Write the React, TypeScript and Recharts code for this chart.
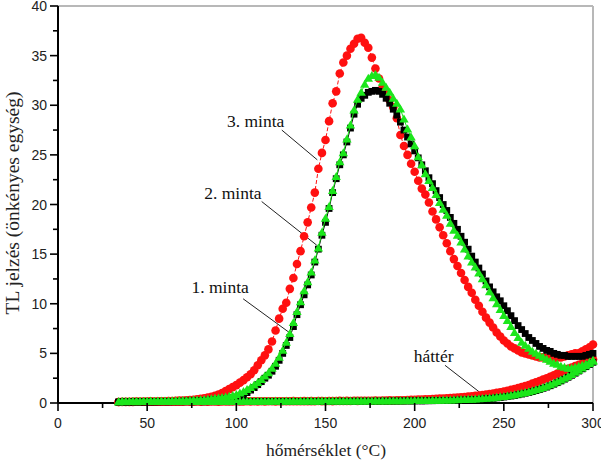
import React from 'react';
import {
  ScatterChart,
  Scatter,
  XAxis,
  YAxis,
  ReferenceLine,
  ReferenceDot,
} from 'recharts';

// temperature grid (°C)
const temps = [
  34, 36, 38, 40, 42, 44, 46, 48, 50, 52,
  54, 56, 58, 60, 62, 64, 66, 68, 70, 72,
  74, 76, 78, 80, 82, 84, 86, 88, 90, 92,
  94, 96, 98, 100, 102, 104, 106, 108, 110, 112,
  114, 116, 118, 120, 122, 124, 126, 128, 130, 132,
  134, 136, 138, 140, 142, 144, 146, 148, 150, 152,
  154, 156, 158, 160, 162, 164, 166, 168, 170, 172,
  174, 176, 178, 180, 182, 184, 186, 188, 190, 192,
  194, 196, 198, 200, 202, 204, 206, 208, 210, 212,
  214, 216, 218, 220, 222, 224, 226, 228, 230, 232,
  234, 236, 238, 240, 242, 244, 246, 248, 250, 252,
  254, 256, 258, 260, 262, 264, 266, 268, 270, 272,
  274, 276, 278, 280, 282, 284, 286, 288, 290, 292,
  294, 296, 298, 300,
];

// 1. minta (black squares)
const minta1 = [
  0.08, 0.1, 0.08, 0.1, 0.1, 0.12, 0.1, 0.12, 0.12, 0.13,
  0.12, 0.14, 0.13, 0.15, 0.14, 0.16, 0.15, 0.17, 0.18, 0.18,
  0.2, 0.2, 0.22, 0.24, 0.26, 0.28, 0.3, 0.33, 0.36, 0.4,
  0.44, 0.48, 0.52, 0.6, 0.7, 0.85, 1.05, 1.3, 1.55, 1.85,
  2.15, 2.5, 2.8, 3.2, 3.7, 4.3, 5.0, 5.8, 6.6, 7.7,
  8.9, 9.9, 10.9, 11.9, 12.9, 14.2, 15.5, 16.9, 18.2, 19.6,
  21.2, 22.6, 24.0, 25.0, 26.3, 27.7, 29.1, 30.1, 30.7, 31.0,
  31.3, 31.4, 31.5, 31.4, 31.1, 30.7, 30.2, 29.6, 29.0, 28.3,
  27.5, 26.8, 26.1, 25.4, 24.7, 24.0, 23.4, 22.7, 22.1, 21.4,
  20.7, 20.0, 19.4, 18.7, 18.1, 17.5, 16.8, 16.2, 15.5, 14.8,
  14.2, 13.6, 13.0, 12.3, 11.7, 11.2, 10.7, 10.3, 9.8, 9.3,
  8.8, 8.3, 7.8, 7.4, 7.0, 6.6, 6.3, 6.0, 5.7, 5.5,
  5.3, 5.2, 5.0, 4.9, 4.8, 4.8, 4.7, 4.7, 4.7, 4.7,
  4.7, 4.8, 4.9, 5.0,
];

// 2. minta (green triangles)
const minta2 = [
  0.12, 0.14, 0.13, 0.15, 0.14, 0.16, 0.15, 0.17, 0.16, 0.18,
  0.17, 0.19, 0.18, 0.2, 0.2, 0.22, 0.21, 0.23, 0.24, 0.25,
  0.26, 0.28, 0.3, 0.32, 0.35, 0.38, 0.42, 0.46, 0.5, 0.55,
  0.6, 0.66, 0.74, 0.85, 1.0, 1.15, 1.35, 1.55, 1.8, 2.05,
  2.35, 2.7, 3.05, 3.5, 4.0, 4.6, 5.3, 6.1, 7.0, 8.1,
  9.2, 10.2, 11.3, 12.2, 13.2, 14.4, 15.6, 17.2, 18.6, 19.8,
  21.4, 22.8, 24.3, 25.2, 26.6, 28.0, 29.5, 30.6, 31.3, 32.1,
  32.7, 33.0, 33.1, 32.8, 32.3, 31.8, 31.3, 30.7, 30.2, 29.6,
  28.6, 27.6, 26.8, 25.9, 24.8, 24.0, 23.1, 22.4, 21.7, 21.0,
  20.2, 19.5, 18.9, 18.1, 17.4, 16.9, 16.2, 15.5, 14.8, 14.2,
  13.7, 13.1, 12.5, 11.9, 11.2, 10.6, 10.0, 9.4, 8.8, 8.3,
  7.7, 7.1, 6.6, 6.1, 5.8, 5.5, 5.2, 5.0, 4.8, 4.6,
  4.4, 4.2, 4.0, 3.9, 3.7, 3.6, 3.5, 3.5, 3.6, 3.7,
  3.8, 3.9, 4.1, 4.3,
];

// 3. minta (red circles)
const minta3 = [
  0.1, 0.1, 0.12, 0.1, 0.12, 0.14, 0.12, 0.15, 0.14, 0.16,
  0.15, 0.17, 0.16, 0.18, 0.2, 0.2, 0.22, 0.24, 0.25, 0.28,
  0.3, 0.33, 0.37, 0.42, 0.48, 0.55, 0.62, 0.72, 0.85, 1.0,
  1.2, 1.4, 1.6, 1.8, 2.05, 2.3, 2.6, 2.9, 3.3, 3.8,
  4.3, 4.8, 5.4, 6.2, 7.3, 8.5, 9.5, 10.1, 11.5, 12.6,
  14.0, 15.3, 16.8, 18.2, 19.7, 21.2, 23.6, 25.2, 26.5, 28.4,
  30.2, 31.4, 33.2, 34.3, 35.0, 35.7, 36.2, 36.7, 36.8, 36.3,
  35.8, 34.8, 33.7, 32.7, 31.8, 31.1, 30.5, 29.8, 28.7, 27.0,
  25.9, 25.0, 24.1, 23.3, 22.4, 21.6, 21.0, 20.2, 19.3, 18.5,
  17.7, 16.9, 16.1, 15.3, 14.5, 13.8, 13.1, 12.4, 11.7, 11.1,
  10.4, 9.8, 9.2, 8.6, 8.1, 7.6, 7.1, 6.7, 6.3, 6.0,
  5.7, 5.5, 5.3, 5.1, 5.0, 4.9, 4.8, 4.7, 4.6, 4.6,
  4.5, 4.5, 4.5, 4.6, 4.6, 4.7, 4.8, 4.9, 5.0, 5.0,
  5.2, 5.4, 5.6, 5.9,
];

// háttér (background) runs
const hatter1 = [
  0.1, 0.11, 0.1, 0.12, 0.11, 0.1, 0.12, 0.11, 0.12, 0.11,
  0.12, 0.11, 0.13, 0.12, 0.11, 0.13, 0.12, 0.13, 0.12, 0.13,
  0.13, 0.12, 0.14, 0.13, 0.12, 0.14, 0.13, 0.14, 0.13, 0.14,
  0.14, 0.13, 0.15, 0.14, 0.13, 0.15, 0.14, 0.15, 0.14, 0.15,
  0.15, 0.14, 0.15, 0.14, 0.16, 0.15, 0.14, 0.16, 0.15, 0.16,
  0.15, 0.16, 0.15, 0.17, 0.16, 0.15, 0.17, 0.16, 0.17, 0.16,
  0.17, 0.16, 0.18, 0.17, 0.16, 0.18, 0.17, 0.18, 0.17, 0.18,
  0.18, 0.17, 0.19, 0.18, 0.19, 0.18, 0.19, 0.2, 0.19, 0.2,
  0.2, 0.21, 0.2, 0.21, 0.22, 0.21, 0.22, 0.23, 0.23, 0.24,
  0.24, 0.25, 0.26, 0.26, 0.27, 0.28, 0.29, 0.3, 0.31, 0.33,
  0.35, 0.37, 0.39, 0.42, 0.45, 0.48, 0.52, 0.56, 0.6, 0.65,
  0.7, 0.76, 0.83, 0.9, 0.98, 1.06, 1.15, 1.25, 1.36, 1.48,
  1.6, 1.74, 1.89, 2.05, 2.22, 2.4, 2.59, 2.79, 3.0, 3.22,
  3.44, 3.66, 3.88, 4.1,
];

const hatter2 = [
  0.12, 0.13, 0.12, 0.14, 0.13, 0.12, 0.14, 0.13, 0.14, 0.13,
  0.14, 0.13, 0.15, 0.14, 0.13, 0.15, 0.14, 0.15, 0.14, 0.15,
  0.15, 0.14, 0.16, 0.15, 0.14, 0.16, 0.15, 0.16, 0.15, 0.16,
  0.16, 0.15, 0.17, 0.16, 0.15, 0.17, 0.16, 0.17, 0.16, 0.17,
  0.17, 0.16, 0.17, 0.16, 0.18, 0.17, 0.16, 0.18, 0.17, 0.18,
  0.17, 0.18, 0.17, 0.19, 0.18, 0.17, 0.19, 0.18, 0.19, 0.18,
  0.19, 0.18, 0.2, 0.19, 0.18, 0.2, 0.19, 0.2, 0.19, 0.2,
  0.2, 0.19, 0.21, 0.2, 0.21, 0.2, 0.21, 0.22, 0.21, 0.22,
  0.22, 0.23, 0.22, 0.23, 0.24, 0.23, 0.24, 0.25, 0.26, 0.27,
  0.27, 0.28, 0.29, 0.3, 0.31, 0.32, 0.33, 0.35, 0.36, 0.38,
  0.4, 0.42, 0.44, 0.47, 0.5, 0.53, 0.57, 0.61, 0.65, 0.7,
  0.76, 0.82, 0.89, 0.96, 1.04, 1.13, 1.22, 1.32, 1.43, 1.55,
  1.68, 1.82, 1.97, 2.13, 2.3, 2.48, 2.67, 2.87, 3.08, 3.3,
  3.52, 3.74, 3.96, 4.2,
];

const hatter3 = [
  0.1, 0.12, 0.1, 0.12, 0.11, 0.13, 0.12, 0.12, 0.13, 0.12,
  0.13, 0.12, 0.14, 0.13, 0.12, 0.14, 0.13, 0.14, 0.13, 0.15,
  0.14, 0.13, 0.15, 0.14, 0.15, 0.14, 0.16, 0.15, 0.14, 0.16,
  0.15, 0.16, 0.15, 0.17, 0.16, 0.15, 0.17, 0.16, 0.17, 0.16,
  0.17, 0.16, 0.18, 0.17, 0.16, 0.18, 0.17, 0.18, 0.17, 0.19,
  0.18, 0.17, 0.19, 0.18, 0.19, 0.18, 0.2, 0.19, 0.18, 0.2,
  0.19, 0.2, 0.21, 0.2, 0.21, 0.2, 0.22, 0.21, 0.22, 0.23,
  0.22, 0.23, 0.24, 0.23, 0.25, 0.24, 0.26, 0.25, 0.27, 0.28,
  0.28, 0.3, 0.31, 0.32, 0.34, 0.35, 0.37, 0.38, 0.4, 0.42,
  0.44, 0.46, 0.48, 0.5, 0.53, 0.55, 0.58, 0.61, 0.64, 0.68,
  0.72, 0.76, 0.8, 0.85, 0.9, 0.96, 1.02, 1.09, 1.16, 1.24,
  1.32, 1.41, 1.5, 1.6, 1.7, 1.82, 1.95, 2.08, 2.22, 2.36,
  2.5, 2.65, 2.8, 2.96, 3.12, 3.28, 3.44, 3.58, 3.72, 3.85,
  3.97, 4.1, 4.25, 4.4,
];

const xTicks = [0, 25, 50, 75, 100, 125, 150, 175, 200, 225, 250, 275, 300];
const yTicks = [0, 2.5, 5, 7.5, 10, 12.5, 15, 17.5, 20, 22.5, 25, 27.5, 30, 32.5, 35, 37.5, 40];

// annotation labels: [text, label x, label y, line start x, y, line end x, y]
const notes: [string, number, number, number, number, number, number][] = [
  ['3. minta', 110.8, 28.4, 125.5, 27.5, 145.4, 24.5],
  ['2. minta', 98.1, 21.2, 114.2, 20.3, 145.1, 15.9],
  ['1. minta', 90.9, 11.7, 103.8, 10.5, 130.1, 7.05],
  ['háttér', 210.6, 4.75, 217, 3.8, 238.5, 0.8],
];

const RED = '#ff1010';
const GREEN = '#1be61b';
const BLACK = '#000000';
const sans = '"Liberation Sans", Arial, sans-serif';
const serif = '"Liberation Serif", "Times New Roman", serif';

const toPts = (vals: number[]) => temps.map((t, i) => ({ t, v: vals[i] }));

const Circle = (p: any) => <circle cx={p.cx} cy={p.cy} r={4.3} fill={RED} />;
const Square = (p: any) => (
  <rect x={p.cx - 3.4} y={p.cy - 3.4} width={6.8} height={6.8} fill={BLACK} />
);
const Tri = (p: any) => (
  <polygon
    points={`${p.cx},${p.cy - 4.6} ${p.cx + 4.7},${p.cy + 3.4} ${p.cx - 4.7},${p.cy + 3.4}`}
    fill={GREEN}
  />
);

const XTick = (props: any) => {
  const { x, y, payload } = props;
  const major = payload.value % 50 === 0;
  return (
    <g>
      <line x1={x} y1={y} x2={x} y2={y + (major ? 8 : 5)} stroke="#000" strokeWidth={1.6} />
      {major && (
        <text x={x} y={y + 25} textAnchor="middle" fontSize={14} fontFamily={sans} fill="#222">
          {payload.value}
        </text>
      )}
    </g>
  );
};

const YTick = (props: any) => {
  const { x, y, payload } = props;
  const major = payload.value % 5 === 0;
  return (
    <g>
      <line x1={x} y1={y} x2={x - (major ? 8 : 5)} y2={y} stroke="#000" strokeWidth={1.6} />
      {major && (
        <text x={x - 11} y={y + 5} textAnchor="end" fontSize={14} fontFamily={sans} fill="#222">
          {payload.value}
        </text>
      )}
    </g>
  );
};

export default function App() {
  return (
    <div style={{ position: 'absolute', left: 0, top: 0, background: '#fff' }}>
      <ScatterChart width={601} height={467} margin={{ top: 6, right: 8, bottom: 0, left: 0 }}>
        <XAxis
          type="number"
          dataKey="t"
          domain={[0, 300]}
          ticks={xTicks}
          interval={0}
          tickSize={0}
          tickMargin={0}
          tickLine={false}
          tick={<XTick />}
          axisLine={{ stroke: '#000', strokeWidth: 2 }}
          height={64}
          label={{
            content: () => (
              <text x={326} y={456} textAnchor="middle" fontSize={17.5} fontFamily={serif} fill="#222">
                hőmérséklet (°C)
              </text>
            ),
          }}
        />
        <YAxis
          type="number"
          dataKey="v"
          domain={[0, 40]}
          ticks={yTicks}
          interval={0}
          tickSize={0}
          tickMargin={0}
          tickLine={false}
          tick={<YTick />}
          axisLine={{ stroke: '#000', strokeWidth: 2 }}
          width={58}
          label={{
            content: () => (
              <text
                x={12}
                y={203}
                transform="rotate(-90 12 203)"
                textAnchor="middle"
                dominantBaseline="central"
                fontSize={19.5}
                fontFamily={serif}
                fill="#222"
              >
                TL jelzés (önkényes egység)
              </text>
            ),
          }}
        />
        <ReferenceLine y={40} stroke="#b8b8b8" strokeWidth={2} />
        <ReferenceLine x={300} stroke="#b8b8b8" strokeWidth={2} />

        <Scatter data={toPts(minta3)} shape={Circle} line={{ stroke: RED, strokeWidth: 1, strokeDasharray: '4 2' }} lineType="joint" isAnimationActive={false} />
        <Scatter data={toPts(hatter3)} shape={Circle} line={{ stroke: RED, strokeWidth: 1 }} lineType="joint" isAnimationActive={false} />
        <Scatter data={toPts(minta1)} shape={Square} line={{ stroke: BLACK, strokeWidth: 1 }} lineType="joint" isAnimationActive={false} />
        <Scatter data={toPts(hatter1)} shape={Square} line={{ stroke: BLACK, strokeWidth: 1 }} lineType="joint" isAnimationActive={false} />
        <Scatter data={toPts(minta2)} shape={Tri} line={{ stroke: GREEN, strokeWidth: 1 }} lineType="joint" isAnimationActive={false} />
        <Scatter data={toPts(hatter2)} shape={Tri} line={{ stroke: GREEN, strokeWidth: 1 }} lineType="joint" isAnimationActive={false} />

        {notes.map(([label, lx, ly, x1, y1, x2, y2]) => (
          <ReferenceLine
            key={'l' + label}
            segment={[{ x: x1, y: y1 }, { x: x2, y: y2 }]}
            stroke="#222"
            strokeWidth={1}
          />
        ))}
        {notes.map(([label, lx, ly]) => (
          <ReferenceDot
            key={'d' + label}
            x={lx}
            y={ly}
            r={0}
            stroke="none"
            fill="none"
            label={{ value: label, position: 'center', fontSize: 17.5, fontFamily: serif, fill: '#111' }}
          />
        ))}
      </ScatterChart>
    </div>
  );
}
